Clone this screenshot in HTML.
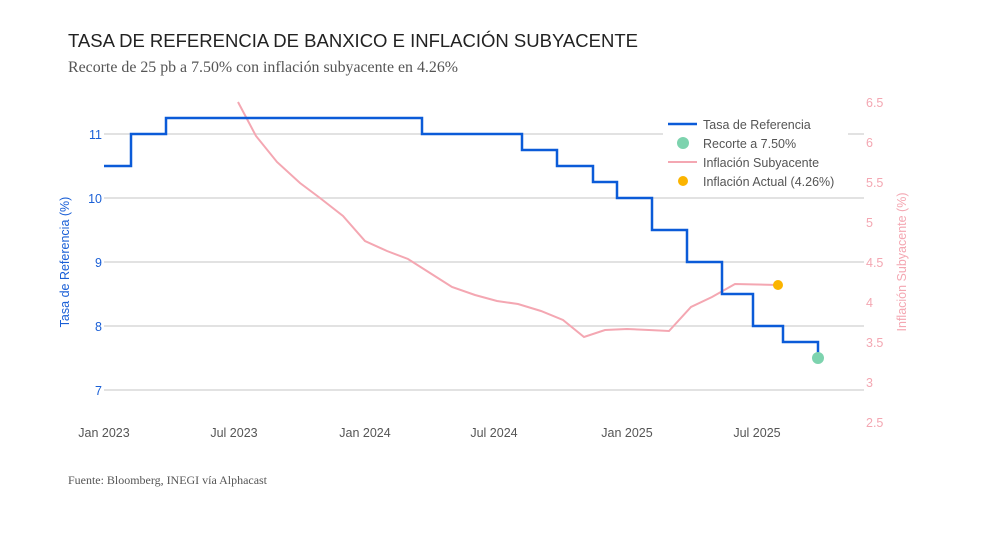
<!DOCTYPE html>
<html><head><meta charset="utf-8"><style>
body{margin:0;background:#fff;width:1002px;height:547px;overflow:hidden}
svg{display:block}
</style></head><body>
<svg width="1002" height="547" viewBox="0 0 1002 547" font-family="Liberation Sans, sans-serif">
<rect width="1002" height="547" fill="#fff"/>
<text x="68" y="47" font-size="18.5" fill="#222" textLength="570" lengthAdjust="spacingAndGlyphs">TASA DE REFERENCIA DE BANXICO E INFLACIÓN SUBYACENTE</text>
<text x="68" y="72" font-size="16" fill="#555" font-family="Liberation Serif, serif" textLength="390" lengthAdjust="spacingAndGlyphs">Recorte de 25 pb a 7.50% con inflación subyacente en 4.26%</text>
<g stroke="#d9d9d9" stroke-width="1.5">
<line x1="104" x2="864" y1="134" y2="134"/><line x1="104" x2="864" y1="198" y2="198"/>
<line x1="104" x2="864" y1="262" y2="262"/><line x1="104" x2="864" y1="326" y2="326"/>
<line x1="104" x2="864" y1="390" y2="390"/>
</g>
<g font-size="12.5" fill="#1a5fd6" text-anchor="end">
<text x="102" y="139">11</text><text x="102" y="203">10</text><text x="102" y="267">9</text><text x="102" y="331">8</text><text x="102" y="395">7</text>
</g>
<g font-size="12.5" fill="#f4a7b2">
<text x="866" y="107">6.5</text><text x="866" y="147">6</text><text x="866" y="187">5.5</text><text x="866" y="227">5</text><text x="866" y="267">4.5</text><text x="866" y="307">4</text><text x="866" y="347">3.5</text><text x="866" y="387">3</text><text x="866" y="427">2.5</text>
</g>
<g font-size="12.5" fill="#555" text-anchor="middle">
<text x="104" y="437">Jan 2023</text><text x="234" y="437">Jul 2023</text><text x="365" y="437">Jan 2024</text><text x="494" y="437">Jul 2024</text><text x="627" y="437">Jan 2025</text><text x="757" y="437">Jul 2025</text>
</g>
<text transform="translate(69,262) rotate(-90)" font-size="12.5" fill="#1a5fd6" text-anchor="middle">Tasa de Referencia (%)</text>
<text transform="translate(906,262) rotate(-90)" font-size="12.5" fill="#f4a7b2" text-anchor="middle">Inflación Subyacente (%)</text>
<polyline fill="none" stroke="#f4a7b2" stroke-width="2" points="238,102 256,136 277,162 300,183 320,198 343,216 365,241 387,251 408,259 430,273 452,287 475,295 497,301 518,304 541,311 563,320 584,337 605,330 627,329 649,330 669,331 691,307 712,297 735,284 778,285"/>
<polyline fill="none" stroke="#0b5bd8" stroke-width="2.5" points="104,166 131,166 131,134 166,134 166,118 422,118 422,134 522,134 522,150 557,150 557,166 593,166 593,182 617,182 617,198 652,198 652,230 687,230 687,262 722,262 722,294 753,294 753,326 783,326 783,342 818,342 818,358"/>
<circle cx="818" cy="358" r="6" fill="#7dd3ae"/>
<circle cx="778" cy="285" r="5" fill="#fbb400"/>
<rect x="663" y="114" width="185" height="78" fill="#fff"/>
<g font-size="12.5" fill="#555">
<line x1="668" x2="697" y1="124" y2="124" stroke="#0b5bd8" stroke-width="2.5"/><text x="703" y="129">Tasa de Referencia</text>
<circle cx="683" cy="143" r="6" fill="#7dd3ae"/><text x="703" y="148">Recorte a 7.50%</text>
<line x1="668" x2="697" y1="162" y2="162" stroke="#f4a7b2" stroke-width="2"/><text x="703" y="167">Inflación Subyacente</text>
<circle cx="683" cy="181" r="5" fill="#fbb400"/><text x="703" y="186">Inflación Actual (4.26%)</text>
</g>
<text x="68" y="484" font-size="12" fill="#555" font-family="Liberation Serif, serif" textLength="199" lengthAdjust="spacingAndGlyphs">Fuente: Bloomberg, INEGI vía Alphacast</text>
</svg>
</body></html>
